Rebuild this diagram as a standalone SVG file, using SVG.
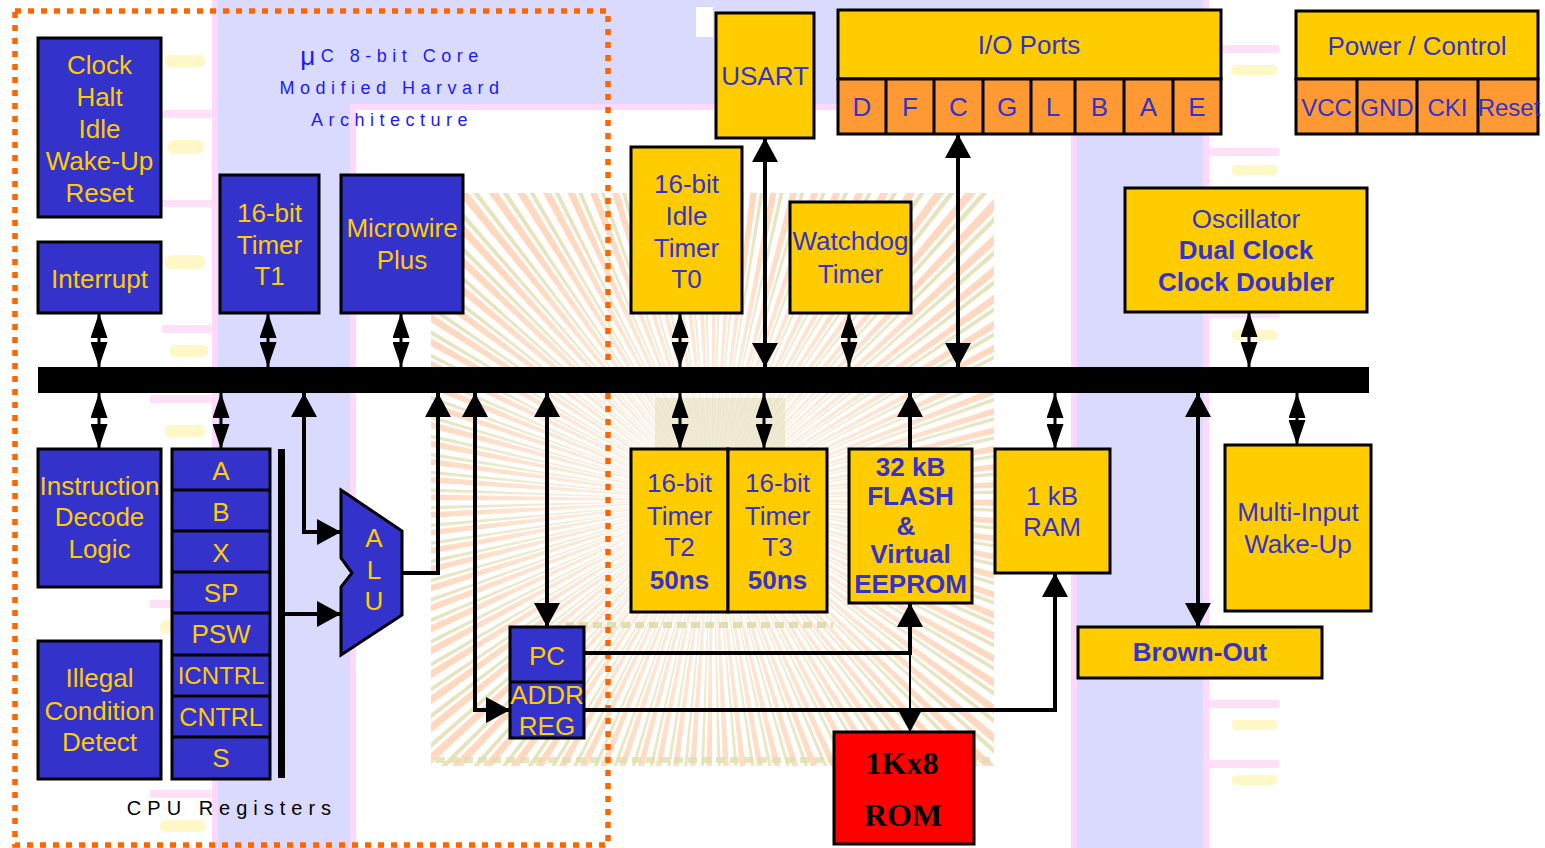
<svg xmlns="http://www.w3.org/2000/svg" width="1545" height="848" viewBox="0 0 1545 848">
<defs>
<style>
.blue{fill:#3333CC;stroke:#000;stroke-width:3}
.yel{fill:#FFCC00;stroke:#000;stroke-width:3}
.org{fill:#FF9933;stroke:#000;stroke-width:3}
.red{fill:#FF0000;stroke:#000;stroke-width:3}
.div{fill:none;stroke:#000;stroke-width:3}
text{font-family:"Liberation Sans",Arial,sans-serif;font-size:26px;text-anchor:middle;dominant-baseline:central}
.ty{fill:#FFCC00}
.tb{fill:#3333CC}
.b{font-weight:bold}
.s24{font-size:24px}
.s25{font-size:25px}
.title{fill:#1a1aff;font-size:18px;letter-spacing:5.5px}
.cpu{fill:#000;font-size:20px;letter-spacing:6px}
.serif{fill:#000;font-family:"Liberation Serif","Times New Roman",serif;font-weight:bold;font-size:32px}
.conn{fill:none;stroke:#000;stroke-width:4}
.dbl{fill:none;stroke:#000;stroke-width:3}
.lav{fill:#DADAFF}
.pink{fill:#FFD8FF}
.faint{fill:#FFF6B8;opacity:0.8}
.fpink{fill:#FFD8F4;opacity:0.8}
</style>
<marker id="big" viewBox="0 0 24 26" refX="24" refY="13" markerWidth="24" markerHeight="26" markerUnits="userSpaceOnUse" orient="auto-start-reverse"><path d="M0,0L24,13L0,26z" fill="#000"/></marker>
<marker id="sm" viewBox="0 0 25 17" refX="25" refY="8.5" markerWidth="25" markerHeight="17" markerUnits="userSpaceOnUse" orient="auto-start-reverse"><path d="M0,0L25,8.5L0,17z" fill="#000"/></marker>
<clipPath id="hatchclip"><rect x="431" y="193" width="563" height="573"/></clipPath>
<radialGradient id="fade" cx="712" cy="500" r="300" gradientUnits="userSpaceOnUse">
<stop offset="0" stop-color="#fff" stop-opacity="0.85"/>
<stop offset="0.35" stop-color="#fff" stop-opacity="0.5"/>
<stop offset="1" stop-color="#fff" stop-opacity="0"/>
</radialGradient>
</defs>

<g id="background">
<rect x="0" y="0" width="1545" height="848" fill="#fff"/>
<rect class="pink" x="212" y="0" width="6" height="848"/>
<rect class="lav" x="218" y="0" width="859" height="104"/>
<rect class="lav" x="218" y="104" width="132" height="744"/>
<rect class="pink" x="350" y="104" width="6" height="744"/>
<rect class="pink" x="356" y="104" width="715" height="6"/>
<rect class="pink" x="1071" y="104" width="6" height="744"/>
<rect class="lav" x="1077" y="0" width="126" height="848"/>
<rect class="pink" x="1203" y="0" width="6" height="848"/>
<rect x="696" y="7" width="17" height="30" fill="#fff"/>
<g clip-path="url(#hatchclip)" opacity="0.75">
<circle cx="712" cy="500" r="215" fill="none" stroke="#FFCCAA" stroke-width="430" stroke-dasharray="4.5 9"/>
<circle cx="712" cy="500" r="215" fill="none" stroke="#E0DBA8" stroke-width="430" stroke-dasharray="2.5 11" stroke-dashoffset="-6.5"/>
<rect x="431" y="193" width="563" height="573" fill="url(#fade)"/>
</g>
<rect x="655" y="398" width="130" height="52" fill="#E4E0BC" opacity="0.6"/>
<line x1="565" y1="625" x2="833" y2="625" stroke="#DCD8A0" stroke-width="6" stroke-dasharray="9 5" opacity="0.8"/>
<line x1="436" y1="760" x2="990" y2="760" stroke="#E2DEAE" stroke-width="6" stroke-dasharray="9 5" opacity="0.8"/>
<rect class="faint" x="165" y="55" width="40" height="12" rx="5"/>
<rect class="fpink" x="162" y="110" width="50" height="8"/>
<rect class="faint" x="168" y="140" width="36" height="14" rx="6"/>
<rect class="fpink" x="162" y="200" width="50" height="7"/>
<rect class="faint" x="165" y="255" width="40" height="14" rx="6"/>
<rect class="fpink" x="162" y="325" width="50" height="8"/>
<rect class="faint" x="170" y="345" width="38" height="12" rx="5"/>
<rect class="fpink" x="150" y="395" width="62" height="8"/>
<rect class="faint" x="165" y="425" width="40" height="12" rx="5"/>
<rect class="fpink" x="150" y="600" width="62" height="8"/>
<rect class="faint" x="160" y="620" width="45" height="14" rx="6"/>
<rect class="fpink" x="150" y="790" width="62" height="8"/>
<rect class="faint" x="160" y="820" width="45" height="12" rx="5"/>
<rect class="fpink" x="1209" y="45" width="70" height="8"/>
<rect class="faint" x="1232" y="65" width="45" height="10" rx="4"/>
<rect class="fpink" x="1209" y="148" width="70" height="8"/>
<rect class="faint" x="1232" y="165" width="45" height="10" rx="4"/>
<rect class="fpink" x="1209" y="310" width="70" height="8"/>
<rect class="faint" x="1232" y="330" width="45" height="10" rx="4"/>
<rect class="fpink" x="1209" y="700" width="70" height="8"/>
<rect class="faint" x="1232" y="720" width="45" height="10" rx="4"/>
<rect class="fpink" x="1209" y="760" width="70" height="8"/>
<rect class="faint" x="1232" y="775" width="45" height="10" rx="4"/>
</g>

<rect id="core-boundary" x="15" y="11" width="593" height="834" fill="none" stroke="#FF6600" stroke-width="5.5" stroke-dasharray="6 7"/>

<g id="core-labels">
<text class="title" x="392" y="56"><tspan style="font-size:26px">μ</tspan>C 8-bit Core</text>
<text class="title" x="392" y="88">Modified Harvard</text>
<text class="title" x="392" y="120">Architecture</text>
<text class="cpu" x="232" y="808">CPU Registers</text>
</g>

<g id="bus"><rect x="38" y="367" width="1331" height="26" fill="#000"/></g>

<g id="connectors">
<path class="dbl" d="M99,313V367" marker-start="url(#sm)" marker-end="url(#sm)"/>
<path class="dbl" d="M268,313V367" marker-start="url(#sm)" marker-end="url(#sm)"/>
<path class="dbl" d="M401,313V367" marker-start="url(#sm)" marker-end="url(#sm)"/>
<path class="dbl" d="M680,313V367" marker-start="url(#sm)" marker-end="url(#sm)"/>
<path class="dbl" d="M849,313V367" marker-start="url(#sm)" marker-end="url(#sm)"/>
<path class="dbl" d="M1249,312V367" marker-start="url(#sm)" marker-end="url(#sm)"/>
<path class="dbl" d="M99,393V449" marker-start="url(#sm)" marker-end="url(#sm)"/>
<path class="dbl" d="M221,393V449" marker-start="url(#sm)" marker-end="url(#sm)"/>
<path class="dbl" d="M680,393V449" marker-start="url(#sm)" marker-end="url(#sm)"/>
<path class="dbl" d="M764,393V449" marker-start="url(#sm)" marker-end="url(#sm)"/>
<path class="dbl" d="M1055,393V449" marker-start="url(#sm)" marker-end="url(#sm)"/>
<path class="dbl" d="M1297,393V445" marker-start="url(#sm)" marker-end="url(#sm)"/>
<path class="conn" d="M765,138V367" marker-start="url(#big)" marker-end="url(#big)"/>
<path class="conn" d="M958,134V367" marker-start="url(#big)" marker-end="url(#big)"/>
<path class="conn" d="M1198,393V627" marker-start="url(#big)" marker-end="url(#big)"/>
<path class="conn" d="M547,393V627" marker-start="url(#big)" marker-end="url(#big)"/>
<path class="conn" d="M304,393V532H341" marker-start="url(#big)" marker-end="url(#big)"/>
<path class="conn" d="M285,614H341" marker-end="url(#big)"/>
<path class="conn" d="M402,573H438V393" marker-end="url(#big)"/>
<path class="conn" d="M475,393V710H510" marker-start="url(#big)" marker-end="url(#big)"/>
<path class="conn" d="M910,449V393" marker-end="url(#big)"/>
<path class="conn" d="M584,653H910V603" marker-end="url(#big)"/>
<path class="conn" d="M584,710H1055V573" marker-end="url(#big)"/>
<path fill="none" stroke="#000" stroke-width="2" d="M910,653V732" marker-end="url(#big)"/>
</g>

<g id="clock-control">
<rect class="blue" x="38" y="38" width="123" height="179"/>
<text class="ty" x="99.5" y="64.5">Clock</text>
<text class="ty" x="99.5" y="96.5">Halt</text>
<text class="ty" x="99.5" y="128.5">Idle</text>
<text class="ty" x="99.5" y="160.5">Wake-Up</text>
<text class="ty" x="99.5" y="192.5">Reset</text>
</g>
<g id="interrupt">
<rect class="blue" x="38" y="242" width="123" height="71"/>
<text class="ty" x="99.5" y="279">Interrupt</text>
</g>
<g id="timer-t1">
<rect class="blue" x="220" y="175" width="99" height="138"/>
<text class="ty" x="269.5" y="213">16-bit</text>
<text class="ty" x="269.5" y="245">Timer</text>
<text class="ty" x="269.5" y="276">T1</text>
</g>
<g id="microwire">
<rect class="blue" x="341" y="175" width="122" height="138"/>
<text class="ty" x="402" y="228">Microwire</text>
<text class="ty" x="402" y="260">Plus</text>
</g>
<g id="instruction-decode">
<rect class="blue" x="38" y="449" width="123" height="138"/>
<text class="ty" x="99.5" y="486">Instruction</text>
<text class="ty" x="99.5" y="517">Decode</text>
<text class="ty" x="99.5" y="549">Logic</text>
</g>
<g id="illegal-condition">
<rect class="blue" x="38" y="641" width="123" height="138"/>
<text class="ty" x="99.5" y="678">Illegal</text>
<text class="ty" x="99.5" y="711">Condition</text>
<text class="ty" x="99.5" y="742">Detect</text>
</g>
<g id="cpu-registers">
<rect class="blue" x="172" y="449" width="98" height="330"/>
<path class="div" d="M172,490H270M172,531H270M172,572H270M172,613H270M172,655H270M172,696H270M172,737H270"/>
<text class="ty" x="221" y="471">A</text>
<text class="ty" x="221" y="512">B</text>
<text class="ty" x="221" y="553">X</text>
<text class="ty" x="221" y="593">SP</text>
<text class="ty" x="221" y="634">PSW</text>
<text class="ty s24" x="221" y="675">ICNTRL</text>
<text class="ty s25" x="221" y="717">CNTRL</text>
<text class="ty" x="221" y="758">S</text>
<rect x="278" y="449" width="7" height="329" fill="#000"/>
</g>
<g id="alu">
<polygon class="blue" points="341,490 402,531 402,615 341,655 341,587 352,573 341,558"/>
<text class="ty" x="374" y="538">A</text>
<text class="ty" x="374" y="570">L</text>
<text class="ty" x="374" y="601">U</text>
</g>
<g id="pc-addr-reg">
<rect class="blue" x="510" y="627" width="74" height="111"/>
<path class="div" d="M510,682H584"/>
<text class="ty" x="547" y="656">PC</text>
<text class="ty" x="547" y="695">ADDR</text>
<text class="ty" x="547" y="726">REG</text>
</g>

<g id="usart">
<rect class="yel" x="716" y="13" width="98" height="125"/>
<text class="tb" x="765" y="76">USART</text>
</g>
<g id="io-ports">
<rect class="yel" x="838" y="10" width="383" height="69"/>
<text class="tb" x="1029" y="45">I/O Ports</text>
<rect class="org" x="838" y="79" width="383" height="55"/>
<path class="div" d="M886,79V134M934,79V134M983,79V134M1031,79V134M1075,79V134M1124,79V134M1173,79V134"/>
<text class="tb" x="862" y="107">D</text>
<text class="tb" x="910" y="107">F</text>
<text class="tb" x="958.5" y="107">C</text>
<text class="tb" x="1007" y="107">G</text>
<text class="tb" x="1053" y="107">L</text>
<text class="tb" x="1099.5" y="107">B</text>
<text class="tb" x="1148.5" y="107">A</text>
<text class="tb" x="1197" y="107">E</text>
</g>
<g id="power-control">
<rect class="yel" x="1296" y="11" width="242" height="68"/>
<text class="tb" x="1417" y="45.5">Power / Control</text>
<rect class="org" x="1296" y="79" width="242" height="55"/>
<path class="div" d="M1357,79V134M1417,79V134M1478,79V134"/>
<text class="tb s24" x="1326.5" y="107.5">VCC</text>
<text class="tb s24" x="1387" y="107.5">GND</text>
<text class="tb s24" x="1447.5" y="107.5">CKI</text>
<text class="tb s24" x="1509" y="107.5">Reset</text>
</g>
<g id="idle-timer-t0">
<rect class="yel" x="631" y="147" width="111" height="166"/>
<text class="tb" x="686.5" y="184">16-bit</text>
<text class="tb" x="686.5" y="216">Idle</text>
<text class="tb" x="686.5" y="248">Timer</text>
<text class="tb" x="686.5" y="279">T0</text>
</g>
<g id="watchdog">
<rect class="yel" x="790" y="202" width="121" height="111"/>
<text class="tb" x="850.5" y="241">Watchdog</text>
<text class="tb" x="850.5" y="274">Timer</text>
</g>
<g id="oscillator">
<rect class="yel" x="1125" y="188" width="242" height="124"/>
<text class="tb" x="1246" y="219">Oscillator</text>
<text class="tb b" x="1246" y="250">Dual Clock</text>
<text class="tb b" x="1246" y="282">Clock Doubler</text>
</g>
<g id="timer-t2">
<rect class="yel" x="631" y="449" width="97" height="163"/>
<text class="tb" x="679.5" y="483">16-bit</text>
<text class="tb" x="679.5" y="516">Timer</text>
<text class="tb" x="679.5" y="547">T2</text>
<text class="tb b" x="679.5" y="580">50ns</text>
</g>
<g id="timer-t3">
<rect class="yel" x="728" y="449" width="99" height="163"/>
<text class="tb" x="777.5" y="483">16-bit</text>
<text class="tb" x="777.5" y="516">Timer</text>
<text class="tb" x="777.5" y="547">T3</text>
<text class="tb b" x="777.5" y="580">50ns</text>
</g>
<g id="flash">
<rect class="yel" x="849" y="449" width="123" height="154"/>
<text class="tb b" x="910.5" y="467">32 kB</text>
<text class="tb b" x="910.5" y="496">FLASH</text>
<text class="tb b" x="906" y="526">&amp;</text>
<text class="tb b" x="910.5" y="554">Virtual</text>
<text class="tb b" x="910.5" y="584">EEPROM</text>
</g>
<g id="ram">
<rect class="yel" x="995" y="449" width="115" height="124"/>
<text class="tb" x="1052" y="496">1 kB</text>
<text class="tb" x="1052" y="527">RAM</text>
</g>
<g id="rom">
<rect class="red" x="834" y="732" width="140" height="112"/>
<text class="serif" x="902" y="763">1Kx8</text>
<text class="serif" x="903" y="815">ROM</text>
</g>
<g id="multi-input-wakeup">
<rect class="yel" x="1225" y="445" width="146" height="166"/>
<text class="tb" x="1298" y="512">Multi-Input</text>
<text class="tb" x="1298" y="544">Wake-Up</text>
</g>
<g id="brown-out">
<rect class="yel" x="1078" y="627" width="244" height="51"/>
<text class="tb b" x="1200" y="652">Brown-Out</text>
</g>
</svg>
